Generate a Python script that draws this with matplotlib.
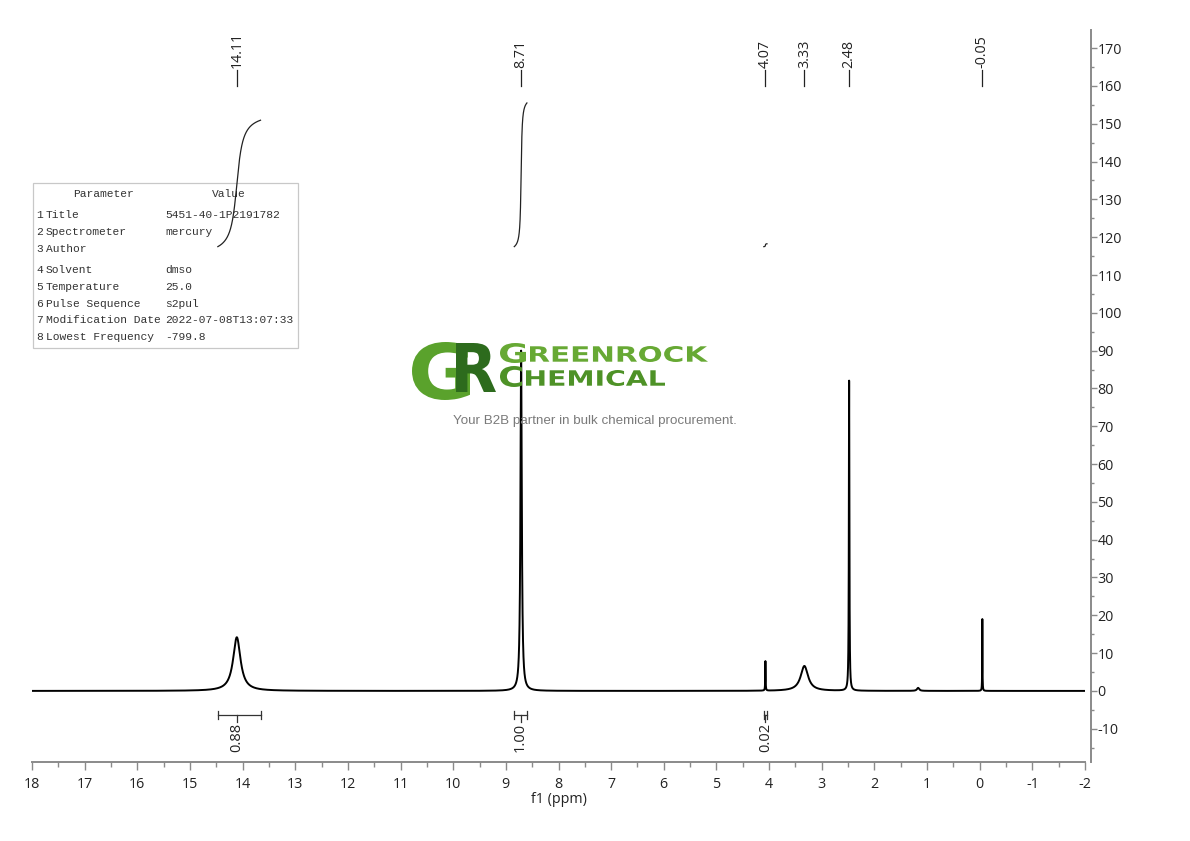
import numpy as np
import matplotlib
matplotlib.use("Agg")
import matplotlib.pyplot as plt
import matplotlib.transforms as mtransforms
from matplotlib.patches import Rectangle, PathPatch
from matplotlib.textpath import TextPath
from matplotlib.font_manager import FontProperties
from matplotlib.ticker import MultipleLocator

plt.rcParams['axes.unicode_minus'] = False
plt.rcParams['font.family'] = ['Open Sans', 'DejaVu Sans']

# peaks (ppm, height, width in ppm)
peak_ppm = [14.11, 8.71, 4.07, 3.33, 2.48, 1.17, -0.05]
peak_height = [14.2, 90.0, 7.8, 6.6, 82.0, 0.8, 19.0]
peak_width = [0.17, 0.03, 0.008, 0.17, 0.012, 0.05, 0.006]

# labelled shifts on top
label_ppm = [14.11, 8.71, 4.07, 3.33, 2.48, -0.05]
label_txt = ["14.11", "8.71", "4.07", "3.33", "2.48", "-0.05"]

# integrals
integ_lo = [13.66, 8.60, 4.04]
integ_hi = [14.47, 8.84, 4.10]
integ_val = [0.88, 1.00, 0.02]
integ_center = [14.11, 8.72, 4.07]

table_params = ["Title", "Spectrometer", "Author", "Solvent", "Temperature",
                "Pulse Sequence", "Modification Date", "Lowest Frequency"]
table_values = ["5451-40-1P2191782", "mercury", "", "dmso", "25.0",
                "s2pul", "2022-07-08T13:07:33", "-799.8"]

W, H = 1190, 841
fig = plt.figure(figsize=(W / 100, H / 100), dpi=100)
ax = fig.add_axes([32 / W, 1 - 762 / H, (1085 - 32) / W, (762 - 30) / H])

ppm = np.linspace(18, -2, 40001)
spec = np.zeros_like(ppm)
for p, h, w in zip(peak_ppm, peak_height, peak_width):
    hw = w / 2
    spec += h * hw ** 2 / ((ppm - p) ** 2 + hw ** 2)

ax.plot(ppm, spec, color='black', lw=1.4, zorder=3)

# integral curves
for lo, hi, v in zip(integ_lo, integ_hi, integ_val):
    m = (ppm <= hi) & (ppm >= lo)
    x = ppm[m]
    cum = np.cumsum(spec[m])
    cum = cum / cum[-1]
    ax.plot(x, 117.5 + v * 38 * cum, color='#222222', lw=0.9, zorder=3)

# integral bars below baseline
for lo, hi, c, v in zip(integ_lo, integ_hi, integ_center, integ_val):
    yb = -6.3
    ax.plot([hi, lo], [yb, yb], color='#333333', lw=0.9, zorder=3)
    for e in (hi, lo):
        ax.plot([e, e], [yb - 1.1, yb + 1.1], color='#333333', lw=0.9, zorder=3)
    ax.plot([c, c], [yb, yb - 2.0], color='#333333', lw=0.9, zorder=3)
    ax.text(c, yb - 2.2, f"{v:.2f}", rotation=90, ha='center', va='top',
            fontsize=10.5, color='#222222')

# peak labels on top
trans = mtransforms.blended_transform_factory(ax.transData, fig.transFigure)
for p, t in zip(label_ppm, label_txt):
    ax.plot([p, p], [1 - 86 / H, 1 - 70 / H], color='#222222', lw=0.9,
            transform=trans, clip_on=False)
    ax.text(p, 1 - 68 / H, t, rotation=90, ha='center', va='bottom',
            fontsize=10.3, color='#222222', transform=trans, clip_on=False)

ax.set_xlim(18, -2)
ax.set_ylim(-18.8, 174.8)
ax.xaxis.set_major_locator(MultipleLocator(1))
ax.xaxis.set_minor_locator(MultipleLocator(0.5))
ax.yaxis.set_major_locator(MultipleLocator(10))
ax.yaxis.set_minor_locator(MultipleLocator(5))
ax.yaxis.tick_right()
ax.set_yticks(np.arange(-10, 171, 10))
for s in ['left', 'top']:
    ax.spines[s].set_visible(False)
for s in ['right', 'bottom']:
    ax.spines[s].set_color('#8a8a8a')
    ax.spines[s].set_linewidth(1.4)
ax.spines['right'].set_position(('outward', 4))
ax.tick_params(axis='both', which='major', colors='#8a8a8a', labelcolor='#222222',
               labelsize=10.3, length=6, width=1.0)
ax.tick_params(axis='x', which='major', pad=5)
ax.tick_params(axis='both', which='minor', colors='#8a8a8a', length=3.5, width=1.0)
ax.tick_params(axis='y', which='both', pad=1, length=4)
ax.tick_params(axis='y', which='minor', length=2.5)
ax.set_xlabel("f1 (ppm)", fontsize=10.3, color='#222222', labelpad=0)

# parameter table
ff = fig.transFigure
ax.add_patch(Rectangle((33 / W, 1 - 348 / H), 265 / W, 165 / H, transform=ff,
                       facecolor='white', edgecolor='#c8c8c8', lw=0.9, zorder=1,
                       clip_on=False))
tfont = dict(family='Liberation Mono', fontsize=8.1, color='#333333', transform=ff,
             va='center', zorder=2)
ax.text(103 / W, 1 - 194 / H, "Parameter", ha='center', **tfont)
ax.text(229 / W, 1 - 194 / H, "Value", ha='center', **tfont)
row_y = [215, 232, 249, 270, 287, 304, 320, 337]
for i, (pname, val) in enumerate(zip(table_params, table_values)):
    y = 1 - row_y[i] / H
    ax.text(36 / W, y, str(i + 1), ha='left', **tfont)
    ax.text(46 / W, y, pname, ha='left', **tfont)
    ax.text(165 / W, y, val, ha='left', **tfont)


# logo drawn as stretched text paths
def box_text(s, x0, x1, y0, y1, color, weight='bold'):
    tp = TextPath((0, 0), s, size=10, prop=FontProperties(family='DejaVu Sans', weight=weight))
    ext = tp.get_extents()
    sx = (x1 - x0) / ext.width
    sy = (y1 - y0) / ext.height
    tr = mtransforms.Affine2D().translate(-ext.x0, -ext.y0).scale(sx / W, sy / H) \
        .translate(x0 / W, 1 - y1 / H) + ff
    ax.add_patch(PathPatch(tp, transform=tr, facecolor=color, edgecolor='none',
                           zorder=5, clip_on=False))


box_text("G", 412, 470, 342, 400, '#5aa22c')
box_text("R", 456, 496, 343, 392, '#2d6b1d')
box_text("G", 500, 526, 343, 363, '#67a934')
box_text("REENROCK", 530, 708, 346, 362, '#67a934')
box_text("C", 500, 522, 366, 387, '#4e9227')
box_text("HEMICAL", 526, 665, 370, 386, '#4e9227')
ax.text(595 / W, 1 - 421 / H, "Your B2B partner in bulk chemical procurement.",
        family='Liberation Sans', fontsize=9.6, color='#7a7a7a', ha='center',
        va='center', transform=ff, zorder=5)

fig.savefig("out.png", dpi=100)
